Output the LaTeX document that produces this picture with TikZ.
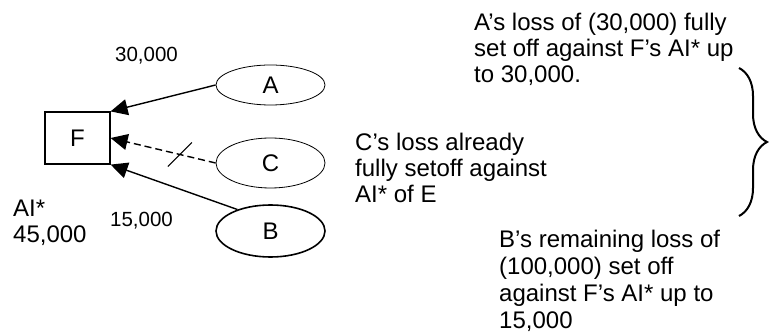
\documentclass[tikz,border=0pt]{standalone}
\usepackage{fontspec}
\setmainfont{Liberation Sans}
\usetikzlibrary{shapes.geometric,arrows.meta,decorations.pathreplacing}
\tikzset{
  big/.style={font=\fontsize{24}{26}\selectfont},
  small/.style={font=\fontsize{20.5}{24}\selectfont},
  txt/.style={big, inner sep=0pt, anchor=base west, align=left},
  lbl/.style={small, inner sep=0pt, anchor=base west},
  unit/.style={big, ellipse, draw, minimum width=109pt, inner sep=0pt},
  arr/.style={-{Triangle[length=17pt,width=16pt]}, line width=1.4pt}
}
\begin{document}
\begin{tikzpicture}[x=1pt,y=-1pt]
  \useasboundingbox (0,0) rectangle (773,336);
  \draw
    (77.5,138) node[big, draw, line width=1.2pt, minimum width=65pt, minimum height=52pt, inner sep=0pt] (F){F}
    (270.5,85) node[unit, minimum height=40pt, line width=0.8pt] (A){A}
    (270.5,163) node[unit, minimum height=50pt, line width=0.8pt] (C){C}
    (270.5,231) node[unit, minimum height=52pt, line width=1.6pt] (B){B};
  \begin{scope}[arr]
    \draw (A.west) -- (F.north east);
    \draw[dash pattern=on 7pt off 4pt] (C.west) -- coordinate[pos=0.34] (cut) (F.east);
    \draw (B.147) -- (F.south east);
  \end{scope}
  \draw[line width=1.2pt] (cut) ++(-12,12) -- ++(24,-24);
  \node[lbl] (lblA) at (115,62) {30,000};
  \node[lbl] (lblB) at (110,227) {15,000};
  \node[txt] (ai) at (13,243) {AI*\\45,000};
  \node[txt] (noteA) at (474,83) {A’s loss of (30,000) fully\\set off against F’s AI* up\\to 30,000.};
  \node[txt] (noteC) at (355,203) {C’s loss already\\fully setoff against\\AI* of E};
  \node[txt, font=\fontsize{24}{27}\selectfont] (noteB) at (499,328) {B’s remaining loss of\\(100,000) set off\\against F’s AI* up to\\15,000};
  \coordinate (brtop) at (739,68);
  \coordinate (brbot) at (739,216);
  \draw[decorate, decoration={brace, amplitude=28pt}, line width=2pt] (brtop) -- (brbot);
\end{tikzpicture}
\end{document}
